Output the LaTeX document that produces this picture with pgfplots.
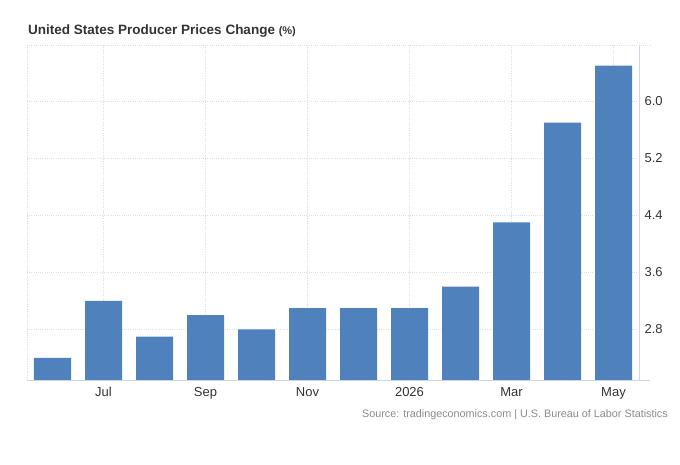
\documentclass[border=0pt]{standalone}
\usepackage{pgfplots}
\pgfplotsset{compat=1.18}
\usepackage{fontspec}
\setmainfont{Liberation Sans}
\definecolor{barblue}{HTML}{4F81BD}
\definecolor{txt}{HTML}{333333}
\definecolor{gridc}{HTML}{DEDEDE}
\definecolor{axc}{HTML}{CCD6EB}
\definecolor{srcc}{HTML}{8A8A8A}
\begin{document}
\begin{tikzpicture}
\useasboundingbox (0,0) rectangle (680pt,465pt);
\begin{axis}[
  at={(27pt,85pt)}, anchor=south west,
  scale only axis, width=612pt, height=335pt,
  xmin=-0.5, xmax=11.5, ymin=2.09, ymax=6.79,
  ybar, bar width=37pt,
  axis x line*=bottom, axis y line*=right,
  axis line style={draw=axc, line width=0.8pt},
  x axis line style={-}, y axis line style={-},
  xtick={1,3,5,7,9,11},
  xticklabels={Jul,Sep,Nov,2026,Mar,May},
  ytick={2.8,3.6,4.4,5.2,6.0},
  yticklabel style={/pgf/number format/fixed,/pgf/number format/fixed zerofill,/pgf/number format/precision=1},
  /pgf/number format/assume math mode=true,
  major tick length=0pt,
  tick label style={font=\fontsize{13}{15}\selectfont, text=txt},
  xticklabel style={yshift=-4pt},
  yticklabel style={xshift=2pt},
  grid=major,
  major grid style={draw=gridc, line width=0.7pt, dash pattern=on 1pt off 1.2pt},
  clip=false,
]
\draw[gridc, line width=0.7pt, dash pattern=on 1pt off 1.2pt] (rel axis cs:0,1) -- (rel axis cs:1.018,1);
\draw[gridc, line width=0.7pt, dash pattern=on 1pt off 1.2pt] (rel axis cs:0,0) -- (rel axis cs:0,1);
\draw[axc, line width=0.8pt] (rel axis cs:1,0) -- (rel axis cs:1.018,0);
\addplot[fill=barblue, draw=none] coordinates {
(0,2.4) (1,3.2) (2,2.7) (3,3.0) (4,2.8) (5,3.1) (6,3.1) (7,3.1) (8,3.4) (9,4.3) (10,5.7) (11,6.5)
};
\end{axis}
\node[anchor=base west, inner sep=0pt, text=txt] at (28pt,430.5pt) {\fontsize{13.5}{15}\selectfont\bfseries United States Producer Prices Change \fontsize{11}{12}\selectfont(\%)};
\node[anchor=base east, inner sep=0pt, text=srcc] at (668pt,47.5pt) {\fontsize{10.8}{13}\selectfont Source: tradingeconomics.com | U.S. Bureau of Labor Statistics};
\end{tikzpicture}
\end{document}
